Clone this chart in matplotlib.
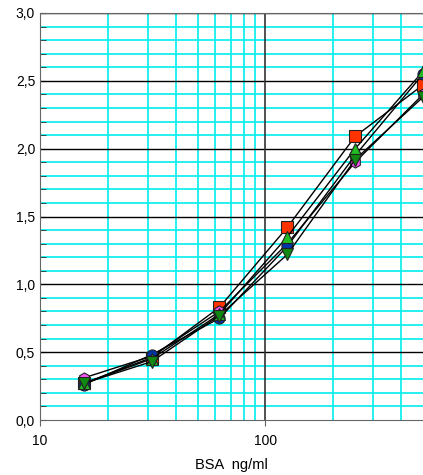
import numpy as np
import matplotlib; matplotlib.use("Agg"); import matplotlib.pyplot as plt
from matplotlib.ticker import FixedLocator, FuncFormatter, NullFormatter

plt.rcParams["font.family"] = ["Liberation Sans", "DejaVu Sans"]

conc = [15.625, 31.25, 62.5, 125, 250, 500]
red_sq = [0.27, 0.46, 0.83, 1.42, 2.09, 2.47]
magenta_hex = [0.31, 0.47, 0.80, 1.30, 1.90, 2.40]
blue_circ = [0.26, 0.48, 0.75, 1.28, 1.95, 2.55]
green_up = [0.27, 0.45, 0.78, 1.35, 2.00, 2.57]
green_down = [0.27, 0.43, 0.77, 1.22, 1.92, 2.38]

x_major = [10, 100]
x_minor = [20, 30, 40, 50, 60, 70, 80, 90, 200, 300, 400]
y_major = np.arange(0, 3.01, 0.5)
y_minor = np.arange(0.1, 3.0, 0.1)

series = [(red_sq, "s", "#ff3300"), (magenta_hex, "h", "#ff55ff"),
          (blue_circ, "o", "#0033aa"), (green_up, "^", "#22bb22"),
          (green_down, "v", "#118811")]

fig = plt.figure(figsize=(4.23, 4.75), dpi=100)
ax = fig.add_axes([40/423, 55/475, 383/423, 407/475])
ax.set_xscale("log")
ax.set_xlim(10, 500); ax.set_ylim(0, 3.0)

ax.xaxis.set_major_locator(FixedLocator(x_major))
ax.xaxis.set_minor_locator(FixedLocator(x_minor))
ax.xaxis.set_major_formatter(FuncFormatter(lambda v, p: f"{v:g}"))
ax.xaxis.set_minor_formatter(NullFormatter())
ax.yaxis.set_major_locator(FixedLocator(y_major))
ax.yaxis.set_minor_locator(FixedLocator(y_minor))
ax.yaxis.set_major_formatter(FuncFormatter(lambda v, p: f"{v:.1f}".replace(".", ",")))

ax.grid(which="minor", color="#00eeee", lw=1.2)
ax.set_axisbelow(True)
# major grid in black on top of the cyan minor grid
for v in y_major[1:]:
    ax.axhline(v, color="black", lw=1, zorder=0.8)
ax.axvline(100, color="#333333", lw=1.2, zorder=0.8)

for s in ["left", "bottom", "top"]:
    ax.spines[s].set_color("#666666")
ax.spines["right"].set_visible(False)
ax.tick_params(axis="y", which="both", direction="in", length=4, color="#333333", labelsize=10)
ax.tick_params(axis="x", which="major", direction="out", length=4, color="#666666", labelsize=10, pad=6)
ax.tick_params(axis="x", which="minor", length=0)

for vals, m, c in series:
    ax.plot(conc, vals, color="black", lw=1, marker=m, ms=8, mfc=c, mec="#222222", mew=0.8, clip_on=True)

ax.set_xlabel("BSA  ng/ml", fontsize=10.5, labelpad=7)
fig.savefig("out.png", dpi=100)
